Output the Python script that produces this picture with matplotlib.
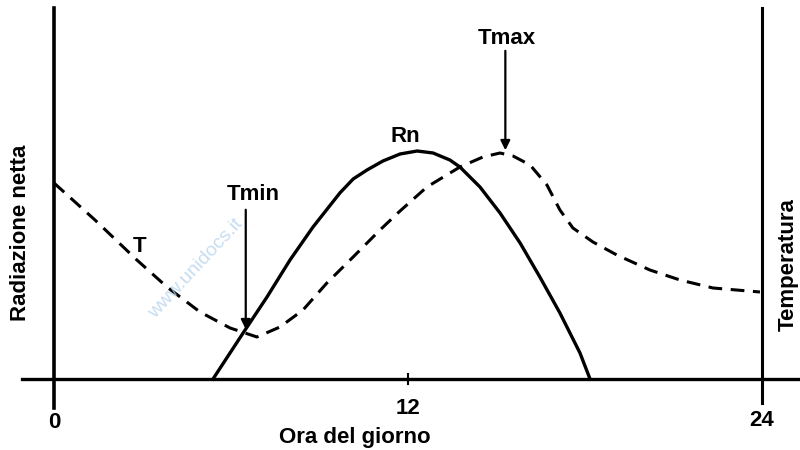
import matplotlib.pyplot as plt

# hour of day vs. relative height above the baseline (arbitrary units)
rn_hours = [5.39, 6.41, 7.22, 8.0, 8.78, 9.69, 10.14, 10.61, 11.15, 11.73, 12.31, 12.85,
            13.42, 13.76, 14.44, 15.12, 15.80, 16.47, 17.15, 17.83, 18.17]
rn_values = [0, 46, 82, 119, 152, 186, 200, 209, 218, 225, 228, 226,
             219, 212, 192, 166, 136, 102, 66, 26, 0]

t_hours = [0.0, 1.39, 2.81, 3.83, 4.95, 5.97, 6.88, 7.66, 8.44, 9.25, 10.14, 11.05,
           11.73, 12.64, 13.76, 14.54, 15.12, 15.56, 16.14, 16.71, 17.15, 17.59,
           18.27, 19.08, 20.20, 21.22, 22.34, 23.93]
t_values = [196, 159, 119, 92, 67, 51, 42, 52, 69, 96, 122, 149,
            168, 192, 212, 222, 226, 223, 214, 194, 169, 151,
            137, 124, 109, 99, 91, 87]

x_ticks = [0, 12, 24]
x_label = "Ora del giorno"
left_label = "Radiazione netta"
right_label = "Temperatura"

fig = plt.figure(figsize=(8, 4.5), dpi=100)
ax = fig.add_axes([0, 0, 1, 1])
ax.set_xlim(-54 / 29.5, 746 / 29.5)
ax.set_ylim(-71, 379)
ax.axis("off")

font = dict(family="Liberation Sans", fontweight="bold", color="black")

# axes drawn by hand, like the textbook figure
ax.plot([-1.1, 25.3], [0, 0], color="black", lw=2.4)
ax.plot([0, 0], [371, -29], color="black", lw=2.6)
ax.plot([24, 24], [371, -24], color="black", lw=2.2)
ax.plot([12, 12], [-5, 5], color="black", lw=1.5)

# curves
ax.plot(rn_hours, rn_values, color="black", lw=2.4, solid_joinstyle="round")
ax.plot(t_hours, t_values, color="black", lw=2.2, linestyle=(0, (4.5, 2.8)))

# annotations
ax.annotate("", xy=(6.5, 47), xytext=(6.5, 172),
            arrowprops=dict(arrowstyle="-|>", color="black", lw=1.6, mutation_scale=14))
ax.text(6.75, 184, "Tmin", fontsize=16, ha="center", va="center", **font)
ax.annotate("", xy=(15.3, 226), xytext=(15.3, 331),
            arrowprops=dict(arrowstyle="-|>", color="black", lw=1.6, mutation_scale=14))
ax.text(15.35, 341, "Tmax", fontsize=16, ha="center", va="center", **font)
ax.text(11.9, 242, "Rn", fontsize=16, ha="center", va="center", **font)
ax.text(2.9, 133, "T", fontsize=16, ha="center", va="center", **font)

for h, py in zip(x_ticks, [-44, -29, -41]):
    ax.text(h, py, str(h), fontsize=16, ha="center", va="center", **font)
ax.text(10.2, -59, x_label, fontsize=16, ha="center", va="center", **font)
ax.text(-1.15, 146, left_label, fontsize=16, rotation=90, ha="center", va="center", **font)
ax.text(24.88, 114, right_label, fontsize=16, rotation=90, ha="center", va="center", **font)

# faint watermark from the scan
ax.text(4.8, 110, "www.unidocs.it", fontsize=14, rotation=47, color="#b8d4ee",
        alpha=0.8, ha="center", va="center", family="Liberation Sans")

fig.savefig("out.png", dpi=100)
